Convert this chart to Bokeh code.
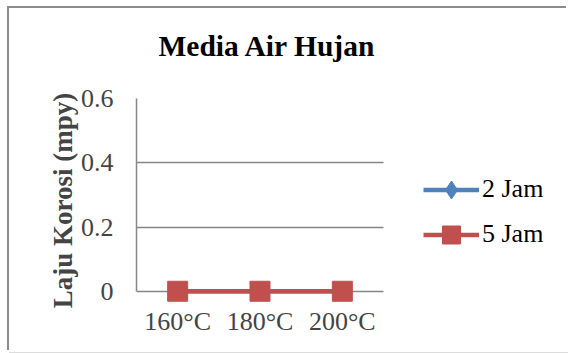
from bokeh.plotting import figure
from bokeh.models import (Range1d, Legend, LegendItem, FixedTicker, Title, BoxAnnotation)
from bokeh.embed import file_html
from bokeh.resources import INLINE

# Data
categories = ["160°C", "180°C", "200°C"]
jam2 = [0, 0, 0]
jam5 = [0, 0, 0]
y_ticks = [0, 0.2, 0.4, 0.6]

FONT = "Liberation Serif"
GRID = "#868686"
BLUE = "#4F81BD"
RED = "#C0504D"

# each category occupies one unit on the x scale, centred on i + 0.5
x_pos = [i + 0.5 for i in range(len(categories))]
n_cat = len(categories)

# the frame runs on to the right edge so the legend sits inside it;
# y reaches a little below zero so markers on the zero line are not clipped
p = figure(width=559, height=344, output_backend="svg", toolbar_location=None,
           x_range=Range1d(0, 5.247), y_range=Range1d(-0.035, 0.6),
           min_border_left=127, min_border_right=0,
           min_border_top=90, min_border_bottom=50)
p.margin = (8, 0, 0, 9)
# chart-area border: grey on top and left, faint line along the bottom
p.styles = {"box-shadow": "-2px -2px 0 0 #8c8c8c, 0 1px 0 0 #dcdcdc"}
p.outline_line_color = None
p.background_fill_color = "white"
p.border_fill_color = "white"

# Title, lifted clear of the plot by a blank spacer panel
p.title = None
p.add_layout(Title(text=" ", text_font_size="1px", standoff=34), "above")
p.add_layout(Title(text="Media Air Hujan", text_font=FONT, text_font_size="29.5px",
                   text_font_style="bold", text_color="black", align="left",
                   offset=22, standoff=0), "above")

# Axes
yax = p.yaxis[0]
yax.ticker = FixedTicker(ticks=y_ticks)
yax.bounds = (0, 0.6)
yax.major_label_overrides = {0: "0", 0.2: "0.2", 0.4: "0.4", 0.6: "0.6"}
yax.axis_label = "Laju Korosi (mpy)"
yax.axis_label_text_font = FONT
yax.axis_label_text_font_size = "27px"
yax.axis_label_text_font_style = "bold"
yax.axis_label_standoff = 0
yax.major_label_text_font = FONT
yax.major_label_text_font_size = "26px"
yax.major_label_standoff = 17
yax.major_tick_line_color = None
yax.minor_tick_line_color = None
yax.axis_line_color = GRID
yax.axis_line_width = 1.5

# category axis; the zero grid line serves as its line
xax = p.xaxis[0]
xax.ticker = FixedTicker(ticks=x_pos)
xax.major_label_overrides = {x: c for x, c in zip(x_pos, categories)}
xax.major_label_text_font = FONT
xax.major_label_text_font_size = "26px"
xax.major_label_standoff = -2
xax.major_tick_line_color = None
xax.minor_tick_line_color = None
xax.axis_line_color = None

p.xgrid.grid_line_color = None
p.ygrid.grid_line_color = GRID
p.ygrid.grid_line_width = 1.5

# blank out the grid beyond the last category (legend area)
p.add_layout(BoxAnnotation(left=n_cat, fill_color="white", fill_alpha=1,
                           line_color=None, level="underlay"))

# Series
l2 = p.line(x_pos, jam2, line_color=BLUE, line_width=4.5)
s2 = p.scatter(x_pos, jam2, marker="diamond", size=18,
               fill_color=BLUE, line_color=BLUE)
l5 = p.line(x_pos, jam5, line_color=RED, line_width=4.5)
s5 = p.scatter(x_pos, jam5, marker="square", size=20,
               fill_color=RED, line_color=RED)

legend = Legend(items=[LegendItem(label="2 Jam", renderers=[l2, s2]),
                       LegendItem(label="5 Jam", renderers=[l5, s5])],
                location=(287, 45.5), orientation="vertical",
                glyph_width=56, glyph_height=45, label_height=45,
                label_standoff=3, spacing=0, padding=0, margin=0,
                border_line_color=None, background_fill_alpha=0,
                label_text_font=FONT, label_text_font_size="26px",
                label_text_color="black")
p.add_layout(legend, "center")

open("out.html", "w").write(file_html(p, INLINE))
